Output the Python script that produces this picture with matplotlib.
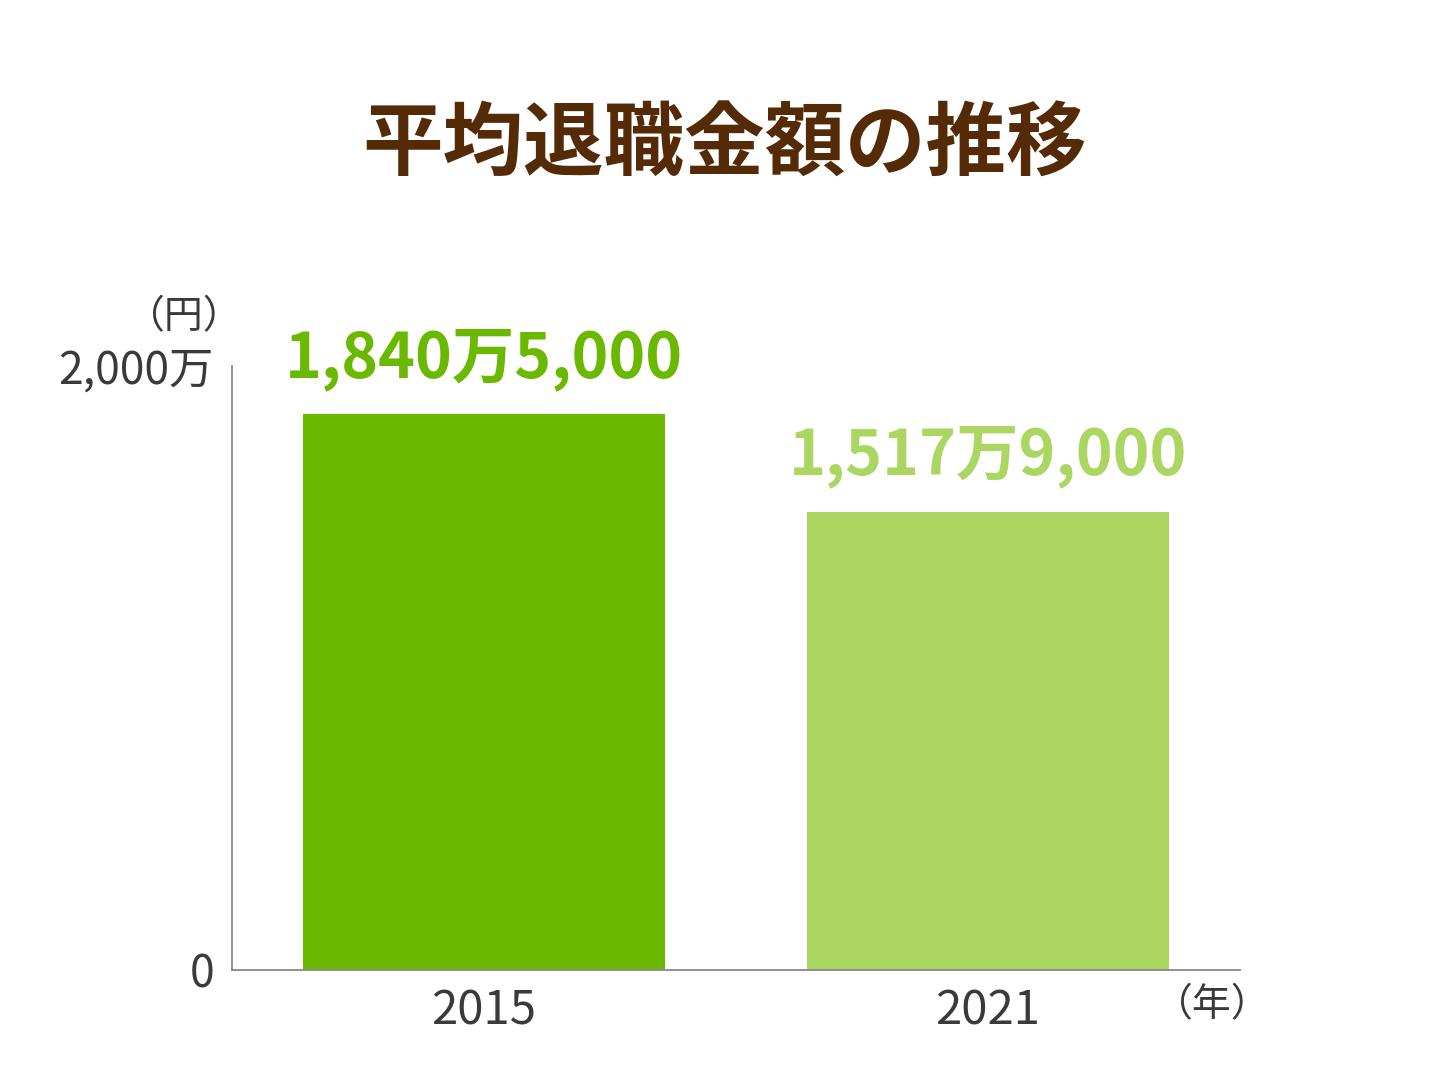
import matplotlib.pyplot as plt

plt.rcParams['font.family'] = ['Noto Sans CJK JP', 'DejaVu Sans']

# data
years = ['2015', '2021']
amounts = [1840.5, 1517.9]  # 万円
value_labels = ['1,840万5,000', '1,517万9,000']
bar_colors = ['#6ab800', '#abd662']
y_ticks = [0, 2000]
y_tick_labels = ['0', '2,000万']

fig = plt.figure(figsize=(14.52, 10.89), dpi=100)
ax = fig.add_axes([0.1598, 0.1093, 0.6942, 0.5546])

x = list(range(len(years)))
ax.bar(x, amounts, width=0.72, color=bar_colors, zorder=2)

for xi, v, lab, c in zip(x, amounts, value_labels, bar_colors):
    ax.annotate(lab, (xi, v), xytext=(0, 17), textcoords='offset points',
                ha='center', va='bottom', fontsize=45, fontweight='bold', color=c)

ax.set_xlim(-0.5, 1.5)
ax.set_ylim(0, 2000)
ax.set_xticks(x)
ax.set_xticklabels(years, fontsize=34, color='#3a3a3a')
ax.set_yticks(y_ticks)
ax.set_yticklabels(y_tick_labels, fontsize=32, color='#3a3a3a')
ax.tick_params(axis='both', length=0)
ax.tick_params(axis='x', pad=12)
ax.tick_params(axis='y', pad=13)

for s in ['top', 'right']:
    ax.spines[s].set_visible(False)
for s in ['left', 'bottom']:
    ax.spines[s].set_color('#888888')
    ax.spines[s].set_linewidth(1.3)

ax.text(0.01, 1.08, '（円）', transform=ax.transAxes, ha='right', va='center',
        fontsize=28, color='#3a3a3a')
ax.text(1.03, -0.058, '（年）', transform=ax.transAxes, ha='right', va='center',
        fontsize=28, color='#3a3a3a')

fig.text(0.499, 0.866, '平均退職金額の推移', ha='center', va='center',
         fontsize=58, fontweight='bold', color='#552a06')

fig.savefig('out.png', dpi=100)
